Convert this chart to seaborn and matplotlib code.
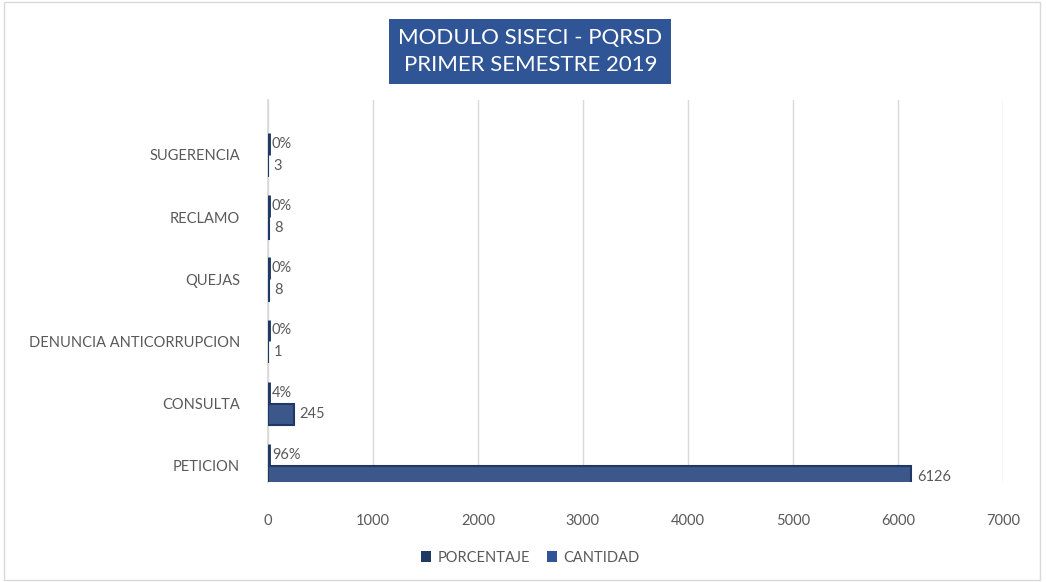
import matplotlib
matplotlib.use("Agg")
import matplotlib.pyplot as plt
import pandas as pd
import seaborn as sns
from matplotlib.patches import Patch, Rectangle

categorias = ["SUGERENCIA", "RECLAMO", "QUEJAS", "DENUNCIA ANTICORRUPCION", "CONSULTA", "PETICION"]
cantidad = [3, 8, 8, 1, 245, 6126]
porcentaje = [0.00, 0.00, 0.00, 0.00, 0.04, 0.96]
x_ticks = [0, 1000, 2000, 3000, 4000, 5000, 6000, 7000]

COLOR_CANT = "#2F5597"
COLOR_PORC = "#1F3864"
GRIS_TXT = "#595959"

sns.set_theme(style="white")
plt.rcParams["font.family"] = ["Lato", "DejaVu Sans"]

df = pd.DataFrame({
    "categoria": categorias * 2,
    "serie": ["PORCENTAJE"] * len(categorias) + ["CANTIDAD"] * len(categorias),
    "valor": porcentaje + cantidad,
})

fig = plt.figure(figsize=(10.46, 5.82), dpi=100)
ax = fig.add_axes([0.256, 0.172, 0.703, 0.656])

sns.barplot(data=df, y="categoria", x="valor", hue="serie", order=categorias,
            hue_order=["PORCENTAJE", "CANTIDAD"],
            palette=[COLOR_PORC, COLOR_CANT], width=0.7, ax=ax,
            orient="h", legend=False, zorder=3)

# barras de porcentaje casi nulas: borde grueso para que se vean
for bar in ax.containers[0]:
    bar.set_edgecolor(COLOR_PORC)
    bar.set_linewidth(3.5)
for bar in ax.containers[1]:
    bar.set_edgecolor(COLOR_PORC)
    bar.set_linewidth(1.5)

ax.bar_label(ax.containers[0], labels=[f"{p:.0%}" for p in porcentaje],
             padding=3, fontsize=10.5, color=GRIS_TXT)
ax.bar_label(ax.containers[1], labels=[str(c) for c in cantidad],
             padding=4, fontsize=10.5, color=GRIS_TXT)

ax.set_xlim(0, 7000)
ax.set_ylim(5.26, -0.88)
ax.set_xticks(x_ticks)
ax.set_xticklabels([str(t) for t in x_ticks])
ax.grid(axis="x", color="#D9D9D9", linewidth=1, zorder=0)
ax.set_xlabel("")
ax.set_ylabel("")
for s in ["top", "right", "bottom"]:
    ax.spines[s].set_visible(False)
ax.spines["left"].set_color("#D9D9D9")
ax.tick_params(axis="x", length=0, pad=23, labelsize=10.5, labelcolor=GRIS_TXT)
ax.tick_params(axis="y", length=0, pad=20, labelsize=10.5, labelcolor=GRIS_TXT)

# titulo en caja azul
fig.text(0.507, 0.912, "MODULO SISECI - PQRSD\nPRIMER SEMESTRE 2019",
         ha="center", va="center", fontsize=16, color="white", linespacing=1.45,
         bbox=dict(boxstyle="square,pad=0.4", facecolor=COLOR_CANT, edgecolor="none"))

handles = [Patch(facecolor=COLOR_PORC, edgecolor="none", label="PORCENTAJE"),
           Patch(facecolor=COLOR_CANT, edgecolor="none", label="CANTIDAD")]
fig.legend(handles=handles, loc="center", bbox_to_anchor=(0.507, 0.042), ncol=2,
           frameon=False, fontsize=10.5, handlelength=0.7, handleheight=0.7,
           handletextpad=0.4, columnspacing=1.2, labelcolor=GRIS_TXT)

fig.patches.append(Rectangle((0.004, 0.004), 0.99, 0.992, transform=fig.transFigure,
                             fill=False, edgecolor="#D9D9D9", linewidth=1))

fig.savefig("out.png", dpi=100)
plt.close(fig)
